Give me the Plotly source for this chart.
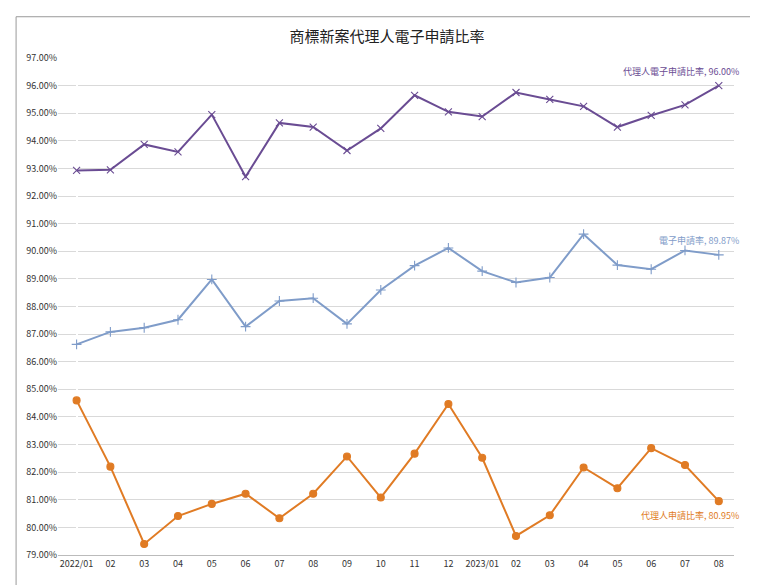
import plotly.graph_objects as go

months = ["2022/01","02","03","04","05","06","07","08","09","10","11","12",
          "2023/01","02","03","04","05","06","07","08"]
agent_e = [92.93,92.95,93.87,93.60,94.95,92.70,94.65,94.50,93.65,94.45,95.65,95.05,
           94.88,95.75,95.50,95.25,94.50,94.92,95.30,96.00]
e_rate = [86.63,87.08,87.23,87.52,88.98,87.27,88.20,88.30,87.37,88.60,89.48,90.12,
          89.28,88.87,89.05,90.62,89.50,89.35,90.03,89.87]
agent = [84.60,82.20,79.40,80.41,80.85,81.22,80.33,81.22,82.57,81.08,82.67,84.47,
         82.52,79.69,80.44,82.17,81.42,82.87,82.26,80.95]
names = ["代理人電子申請比率","電子申請率","代理人申請比率"]
colors = ["#6A4C93","#7F9CC9","#E07B24"]
symbols = ["x-thin","cross-thin","circle"]

x = list(range(len(months)))
fig = go.Figure()
for name, ys, c, s in zip(names, [agent_e, e_rate, agent], colors, symbols):
    fig.add_trace(go.Scatter(x=x, y=ys, mode="lines+markers", name=name,
        line=dict(color=c, width=2),
        marker=dict(symbol=s, size=7 if s=="circle" else 7, color=c,
                    line=dict(color=c, width=1.1))))
    fig.add_annotation(x=x[-1], y=ys[-1], text=f"{name}, {ys[-1]:.2f}%",
        showarrow=False, xanchor="right", yshift=-14 if name=="代理人申請比率" else 14,
        xshift=22, font=dict(size=9, color=c))

fig.update_layout(
    width=758, height=585, paper_bgcolor="white", plot_bgcolor="white",
    margin=dict(l=50, r=32, t=50, b=38), showlegend=False,
    title=dict(text="商標新案代理人電子申請比率", x=0.5, y=0.96, xanchor="center",
               font=dict(size=15, color="#222")),
    font=dict(family="Noto Sans CJK TC, sans-serif", color="#333"),
    xaxis=dict(tickmode="array", tickvals=x, ticktext=months, range=[-0.55, 19.45],
               showgrid=False, showline=True, linecolor="#bbb", tickfont=dict(size=9), ticks=""),
    yaxis=dict(range=[79, 97], dtick=1, ticksuffix="%", tickformat=".2f",
               gridcolor="#d9d9d9", showline=False, zeroline=False, tickfont=dict(size=9)),
    shapes=[dict(type="rect", xref="paper", yref="paper", x0=-0.062, x1=1.032, y0=-0.076, y1=1.083,
                 line=dict(color="#999", width=1))],
)
fig.write_html("out.html")
